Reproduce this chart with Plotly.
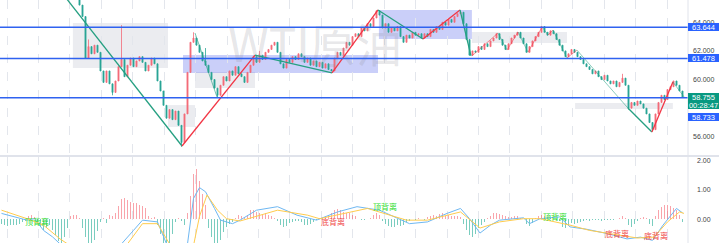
import plotly.graph_objects as go

# ---------------- data ----------------
first_open = 67.6
closes = [
    67.4, 67.1, 67.5, 67.2, 66.9, 67.3, 67.0, 66.8, 67.1, 66.9,
    66.6, 66.8, 66.5, 66.7, 66.4, 66.6, 66.3, 66.1, 66.4, 66.2,
    65.9, 66.1, 65.8, 65.9, 65.7, 65.6, 65.2, 64.4, 61.5, 62.3,
    61.8, 62.4, 61.9, 60.6, 59.8, 60.6, 59.7, 59.1, 59.9, 60.9,
    61.4, 60.2, 61.0, 61.5, 60.9, 61.3, 61.6, 61.2, 60.6, 61.0,
    61.5, 61.1, 59.9, 59.2, 58.2, 57.3, 57.9, 57.2, 57.8, 56.8,
    55.6, 57.6, 60.5, 62.6, 62.9, 62.4, 61.9, 61.3, 61.0, 60.5,
    60.0, 59.4, 58.9, 59.6, 60.2, 59.9, 60.6, 60.3, 60.9, 60.4,
    60.2, 59.8, 60.5, 61.0, 61.6, 61.2, 61.7, 61.4, 61.9, 62.1,
    62.4, 62.6, 61.9, 61.1, 60.8, 61.4, 61.2, 61.6, 61.4, 61.8,
    61.6, 61.2, 61.5, 61.0, 61.3, 60.9, 61.2, 60.8, 61.1, 60.7,
    60.6, 61.5, 61.9, 61.7, 62.2, 62.6, 62.4, 63.0, 63.2, 63.0,
    63.6, 63.4, 63.9, 63.7, 64.3, 64.8, 64.5, 63.6, 63.9, 63.3,
    63.6, 63.4, 63.7, 63.0, 62.6, 63.1, 62.9, 63.3, 63.1, 63.2,
    62.9, 63.2, 63.0, 63.5, 63.3, 63.7, 63.5, 64.0, 63.8, 64.2,
    64.0, 64.4, 64.6, 64.7, 63.9, 62.8, 61.7, 62.0, 61.9, 62.3,
    62.1, 62.5, 62.3, 62.7, 62.9, 63.2, 62.8, 62.4, 62.1, 62.5,
    62.9, 63.1, 63.3, 62.9, 62.5, 61.9, 62.3, 62.7, 63.0, 63.3,
    63.7, 63.3, 63.1, 63.4, 63.2, 62.8, 62.4, 62.0, 61.6, 61.8,
    62.1, 61.9, 61.6, 61.4, 61.1, 60.9, 60.7, 60.4, 60.6, 60.2,
    60.0, 60.3, 59.9, 59.7, 59.9, 59.5, 59.8, 60.1, 59.6, 58.0,
    58.4, 58.2, 58.5, 58.3, 58.0, 57.6, 57.0, 56.5, 57.6, 58.4,
    58.9, 58.6, 59.3, 59.5, 59.9, 59.6, 59.2, 58.755,
]
spike_high = {40: 63.8, 64: 63.3, 68: 62.2, 29: 62.8, 86: 62.0, 207: 60.4}
spike_low = {60: 55.3, 209: 57.9, 217: 56.4, 37: 58.9, 72: 58.75}

hist = [
    -0.15, -0.2, -0.22, -0.2, -0.18, -0.2, -0.15, -0.1, -0.05,
    0.1, 0.15, 0.08,
    -0.1, -0.25, -0.35, -0.3, -0.2, -0.35, -0.55, -0.75, -0.8, -0.6, -0.3,
    0.1, 0.15, 0.15, 0.05,
    -0.3, -0.6, -0.8, -0.85, -0.7, -0.4, -0.1,
    0.05, -0.12,
    0.15, 0.12, 0.2,
    0.45, 0.68, 0.72, 0.66, 0.6, 0.56, 0.54, 0.5, 0.45,
    0.38, 0.12, 0.05, 0.08,
    -0.2, -0.5, -0.8, -0.85, -0.8, -0.5,
    -0.1, 0.05, -0.05, -0.2,
    0.2, 0.8, 1.55, 1.7, 1.3, 0.85, 0.5,
    -0.3, -0.6, -0.8, -0.85, -0.7, -0.45, -0.25, -0.15, -0.1,
    0.05, 0.15,
    0.1, 0.05, 0.15, 0.3, 0.3, 0.25, 0.2, 0.15, 0.2, 0.15, 0.1,
    0.05, -0.05, -0.2, -0.26, -0.22, -0.12, -0.08, -0.05, -0.06, -0.1, -0.18, -0.2, -0.15, -0.08, -0.03,
    0.03, 0.05, 0.1, 0.15, 0.2, 0.3, 0.35, 0.3, 0.25, 0.2, 0.2, 0.15, 0.1,
    0.02, -0.03, -0.02, 0.02, 0.05,
    0.15, 0.22, 0.15,
    -0.05, -0.15, -0.22, -0.26, -0.25, -0.2, -0.22, -0.18, -0.1, -0.05,
    0.02, -0.02, 0.03, 0.02, -0.02,
    0.08, 0.12, 0.15, 0.1, 0.18, 0.2, 0.12, 0.15, 0.12, 0.1, 0.12, 0.08,
    -0.15, -0.35, -0.55, -0.62, -0.5, -0.3, -0.2, -0.1,
    0.05, 0.12, 0.2, 0.22, 0.18, 0.15, 0.1, 0.08, 0.08, 0.1, 0.12, 0.05,
    0.02,
    -0.15, -0.22, -0.12,
    0.05, 0.1, 0.15, 0.12,
    0.08, 0.03, 0.02, -0.03, -0.05,
    -0.25, -0.3, -0.2,
    -0.12, -0.15, -0.12, -0.08, -0.05, -0.04, -0.05, -0.04, -0.03, -0.04, -0.05, -0.03, -0.02, -0.03, -0.02, 0.02, 0.05,
    0.12, 0.05,
    -0.2, -0.25, -0.15, -0.05,
    0.05, 0.08, 0.04,
    -0.15, -0.22,
    0.1, 0.3, 0.42, 0.5, 0.48, 0.45, 0.4, 0.3, 0.15, -0.1,
]

dif_idx = [0, 4, 8.5, 11, 14, 17, 19.5, 24, 30, 36, 40, 44, 47, 52, 55, 58, 61, 62, 64, 66,
           68, 71, 73, 77, 79.5, 85, 92, 98.5, 105, 112, 118.5, 126, 132, 136, 142, 148.5,
           153, 156, 159.5, 163, 166, 174, 176, 179.5, 186, 189.5, 195, 202, 208.5, 213,
           217, 220.5, 225, 227]
dif_val = [0.2, 0.08, -0.03, 0.02, -0.38, -0.6, -0.84, -1.1, -1.3, -1.1, -0.84, -0.38, -0.03,
           -0.09, -0.84, -1.2, -1.1, -0.84, 0.71, 1.08, 0.94, 0.37, -0.03, -0.15, -0.03, 0.31,
           0.43, 0.14, -0.03, 0.25, 0.43, 0.31, 0.02, -0.15, -0.09, 0.2, 0.37, 0.02, -0.47,
           -0.2, -0.03, 0.05, -0.15, 0.02, 0.08, -0.26, -0.34, -0.49, -0.67, -0.61, -0.72,
           -0.2, 0.37, 0.22]
dea_idx = [0, 8.5, 14, 19.5, 22, 30, 38, 42, 47, 52, 56, 60, 64, 66, 68.5, 72, 75, 79.5, 92,
           102, 106, 122, 135, 142, 153, 159.5, 166, 174, 179.5, 189.5, 196, 206, 212, 217.5,
           222, 226, 227.5]
dea_val = [0.31, 0.02, -0.2, -0.67, -0.84, -1.1, -1.0, -0.84, -0.15, -0.15, -0.84, -1.0, -0.9,
           0.1, 0.83, 0.31, 0.02, -0.06, 0.31, 0.14, 0.02, 0.37, -0.03, -0.03, 0.25, -0.3,
           -0.09, 0.02, 0.02, -0.2, -0.38, -0.55, -0.64, -0.61, -0.09, 0.25, 0.2]

hline_levels = [63.644, 61.478, 58.733]

zig_main_idx = [17.0, 60.17, 84.5, 110.17, 125.5, 140.5, 152.83, 156.5]
zig_main_px = [66.9, 55.36, 61.71, 60.46, 64.86, 62.83, 64.86, 61.65]
zig_tail_idx = [208.8, 216.8, 223.8]
zig_tail_px = [58.01, 56.34, 59.83]
zig_thin_a_idx = [64.5, 71.83]
zig_thin_a_px = [63.25, 58.78]
zig_thin_b_idx = [156.8, 165.5, 168.5, 172.2, 175.5, 180.2, 182.2, 183.8, 188.5, 191.8, 208.8]
zig_thin_b_px = [61.65, 63.25, 62.06, 63.32, 61.9, 63.67, 63.11, 63.46, 61.51, 62.06, 58.01]
zig_thin_c_idx = [223.8, 227.8]
zig_thin_c_px = [59.83, 58.71]

gray_boxes = [  # (idx0, idx1, price_low, price_high)
    (23.8, 55.5, 60.81, 63.95),
    (55.5, 64.5, 56.69, 58.22),
    (64.5, 84.5, 59.41, 60.53),
    (156.8, 188.5, 62.55, 63.32),
    (191.2, 223.8, 57.94, 58.36),
]
blue_boxes = [
    (60.5, 125.5, 60.46, 61.71),
    (125.8, 156.8, 62.83, 64.86),
]

price_ticks = [56, 60, 62, 64]
price_labels = [("63.644", 63.644, "blue"), ("61.478", 61.478, "blue"),
                ("58.755", 58.755, "green"), ("00:28:47", 58.225, "green"),
                ("58.733", 57.39, "blue")]
macd_ticks = [0, 1, 2]
div_labels = [("顶背离", 11.83, -0.06, "top"), ("底背离", 110.5, -0.09, "bot"),
              ("顶背离", 127.83, 0.42, "top"), ("顶背离", 184.5, 0.08, "top"),
              ("底背离", 205.17, -0.47, "bot"), ("底背离", 218.17, -0.54, "bot"),
              ("底背离", 61.17, -0.98, "bot")]
watermark = "WTI原油"

# ---------------- derived ----------------
n = len(closes)
idx = list(range(n))
opens = [first_open] + closes[:-1]
highs = [max(o, c) for o, c in zip(opens, closes)]
lows = [min(o, c) for o, c in zip(opens, closes)]
for k, v in spike_high.items():
    highs[k] = v
for k, v in spike_low.items():
    lows[k] = v

UP = "#f26b78"
DN = "#2aa596"
FONT = "Liberation Sans, Arial, sans-serif"
W, H = 719, 243
PLOT_W = 688
x_range = [-0.5, (PLOT_W - 1.5) / 3]
price_range = [54.73, 65.556]
macd_range = [-0.81, 2.126]

fig = go.Figure()

fig.add_trace(go.Scatter(x=[104.5], y=[62.0], mode="text", text=[watermark],
                         textfont=dict(size=46, color="rgba(150,150,160,0.24)",
                                       family="Noto Sans CJK SC"),
                         hoverinfo="skip", xaxis="x", yaxis="y"))

fig.add_trace(go.Candlestick(x=idx, open=opens, high=highs, low=lows, close=closes,
                             increasing=dict(line=dict(color=UP, width=0.8), fillcolor=UP),
                             decreasing=dict(line=dict(color=DN, width=0.8), fillcolor=DN),
                             whiskerwidth=0, xaxis="x", yaxis="y"))


def add_zig(xs, ys, width, alpha):
    for a in range(len(xs) - 1):
        col = "rgba(242,54,69,%s)" % alpha if ys[a + 1] > ys[a] else "rgba(38,160,130,%s)" % alpha
        fig.add_trace(go.Scatter(x=[xs[a], xs[a + 1]], y=[ys[a], ys[a + 1]], mode="lines",
                                 line=dict(color=col, width=width), hoverinfo="skip",
                                 xaxis="x", yaxis="y"))


add_zig(zig_main_idx, zig_main_px, 1.3, 1)
add_zig(zig_tail_idx, zig_tail_px, 1.3, 1)
add_zig(zig_thin_a_idx, zig_thin_a_px, 0.9, 0.7)
add_zig(zig_thin_b_idx, zig_thin_b_px, 0.9, 0.6)
add_zig(zig_thin_c_idx, zig_thin_c_px, 0.9, 0.6)

fig.add_trace(go.Bar(x=idx[:len(hist)], y=hist, width=0.62,
                     marker=dict(color=["rgba(242,54,69,0.45)" if v >= 0 else "rgba(34,171,148,0.6)" for v in hist],
                                 line=dict(width=0)),
                     xaxis="x2", yaxis="y2"))
fig.add_trace(go.Scatter(x=dif_idx, y=dif_val, mode="lines", line=dict(color="#6fb8f2", width=1),
                         xaxis="x2", yaxis="y2"))
fig.add_trace(go.Scatter(x=dea_idx, y=dea_val, mode="lines", line=dict(color="#ffcc4d", width=1),
                         xaxis="x2", yaxis="y2"))

shapes = []
for x0, x1, p0, p1 in gray_boxes:
    shapes.append(dict(type="rect", xref="x", yref="y", x0=x0, x1=x1, y0=p0, y1=p1,
                       fillcolor="rgba(180,185,200,0.27)", line=dict(width=0), layer="below"))
for x0, x1, p0, p1 in blue_boxes:
    shapes.append(dict(type="rect", xref="x", yref="y", x0=x0, x1=x1, y0=p0, y1=p1,
                       fillcolor="rgba(90,105,235,0.32)", line=dict(width=0), layer="below"))
for lv in hline_levels:
    shapes.append(dict(type="line", xref="paper", yref="y", x0=0, x1=1, y0=lv, y1=lv,
                       line=dict(color="#2f62f0", width=1.5), layer="above"))
sep_y = 1 - 156 / H
shapes.append(dict(type="line", xref="paper", yref="paper", x0=0, x1=W / PLOT_W, y0=sep_y, y1=sep_y,
                   line=dict(color="#e0e3eb", width=2)))
shapes.append(dict(type="line", xref="paper", yref="paper", x0=1, x1=1, y0=0, y1=1,
                   line=dict(color="#e0e3eb", width=1)))

annotations = []
box_col = {"blue": "#2962ff", "green": "#089981"}
for txt, yv, c in price_labels:
    annotations.append(dict(text=txt, xref="paper", yref="y", x=1, y=yv, xanchor="left",
                            yanchor="middle", showarrow=False, bgcolor=box_col[c],
                            font=dict(size=7.5, color="white", family=FONT),
                            width=W - PLOT_W, height=8, borderpad=0, borderwidth=0))
lab_col = {"top": "#2fdc2f", "bot": "#f04a4a"}
for txt, xv, yv, kind in div_labels:
    annotations.append(dict(text=txt, xref="x2", yref="y2", x=xv, y=yv, showarrow=False,
                            font=dict(size=8, color=lab_col[kind], family="Noto Sans CJK SC")))

xcommon = dict(range=x_range, showticklabels=False, showgrid=True, gridcolor="#e3e6ec",
               griddash="dash", gridwidth=1, tick0=(7 - 1.5) / 3, dtick=31.43 / 3,
               zeroline=False, showline=False, ticks="", fixedrange=True)

fig.update_layout(
    width=W, height=H, margin=dict(l=0, r=W - PLOT_W, t=0, b=0),
    paper_bgcolor="white", plot_bgcolor="white", showlegend=False,
    boxgap=0.5,
    xaxis=dict(**xcommon, domain=[0, 1], anchor="y", rangeslider=dict(visible=False)),
    xaxis2=dict(**xcommon, domain=[0, 1], anchor="y2"),
    yaxis=dict(domain=[1 - 155 / H, 1], range=price_range, side="right",
               tickvals=price_ticks, tickformat=".3f", showgrid=False,
               zeroline=False, ticks="", ticklabelstandoff=4,
               tickfont=dict(size=7, color="#444", family=FONT)),
    yaxis2=dict(domain=[0, 1 - 157 / H], range=macd_range, side="right",
                tickvals=macd_ticks, tickformat=".2f", showgrid=False, zeroline=False,
                ticks="", ticklabelstandoff=8,
                tickfont=dict(size=7, color="#444", family=FONT)),
    shapes=shapes, annotations=annotations, bargap=0,
)

fig.write_html("out.html")
